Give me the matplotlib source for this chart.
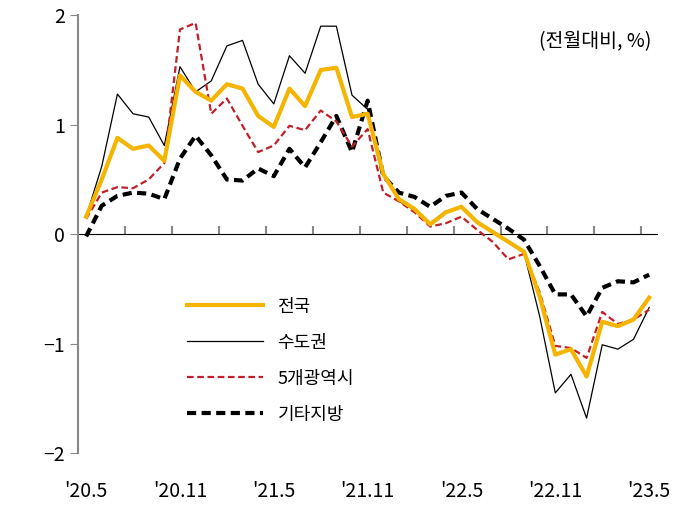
import matplotlib
matplotlib.use("Agg")
import matplotlib.pyplot as plt
from matplotlib import font_manager

avail = {f.name for f in font_manager.fontManager.ttflist}
cands = [n for n in ["Noto Sans CJK KR", "Noto Sans CJK JP", "Noto Sans CJK SC", "Noto Sans CJK TC"] if n in avail]
plt.rcParams["font.family"] = cands + ["DejaVu Sans"]

tick_labels = ["'20.5", "'20.11", "'21.5", "'21.11", "'22.5", "'22.11", "'23.5"]
nation = [0.16, 0.5, 0.88, 0.78, 0.81, 0.67, 1.45, 1.3, 1.22, 1.37, 1.33, 1.08, 0.98, 1.33, 1.17, 1.5, 1.52, 1.07, 1.1,
          0.55, 0.32, 0.23, 0.09, 0.2, 0.25, 0.11, 0.02, -0.07, -0.16, -0.57, -1.1, -1.05, -1.3, -0.8, -0.84, -0.78, -0.58]
capital = [0.16, 0.62, 1.28, 1.1, 1.07, 0.81, 1.53, 1.3, 1.4, 1.72, 1.77, 1.37, 1.19, 1.63, 1.47, 1.9, 1.9, 1.27, 1.14,
           0.55, 0.3, 0.22, 0.1, 0.21, 0.24, 0.1, 0.02, -0.08, -0.17, -0.75, -1.45, -1.28, -1.68, -1.01, -1.05, -0.96, -0.67]
metro = [0.14, 0.38, 0.43, 0.42, 0.5, 0.65, 1.87, 1.93, 1.1, 1.24, 0.99, 0.75, 0.81, 0.99, 0.95, 1.13, 1.03, 0.8, 0.96,
         0.38, 0.3, 0.2, 0.07, 0.1, 0.16, 0.04, -0.07, -0.23, -0.18, -0.53, -1.02, -1.04, -1.13, -0.71, -0.82, -0.78, -0.69]
other = [-0.02, 0.26, 0.35, 0.38, 0.37, 0.32, 0.69, 0.9, 0.72, 0.5, 0.49, 0.6, 0.53, 0.78, 0.61, 0.84, 1.08, 0.75, 1.22,
         0.53, 0.38, 0.34, 0.25, 0.35, 0.38, 0.23, 0.14, 0.05, -0.05, -0.29, -0.55, -0.55, -0.75, -0.49, -0.43, -0.44, -0.37]

x = list(range(len(nation)))
fig = plt.figure(figsize=(6.93, 5.08), dpi=100)
ax = fig.add_axes([0.113, 0.108, 0.835, 0.862])

ax.plot(x, capital, color="black", lw=0.9, label="수도권", zorder=3)
ax.plot(x, metro, color="#c0202a", lw=1.6, ls=(0, (3, 1.6)), label="5개광역시", zorder=3)
ax.plot(x, other, color="black", lw=3, ls=(0, (2.2, 1.3)), label="기타지방", zorder=2)
ax.plot(x, nation, color="#f5b400", lw=3, label="전국", zorder=4)

ax.set_xlim(-0.5, 36.5)
ax.set_ylim(-2, 2)
ax.set_yticks([-2, -1, 0, 1, 2])
ax.set_yticklabels(["\u22122", "\u22121", "0", "1", "2"])
ax.set_xticks(list(range(0, 37, 6)))
ax.set_xticklabels(tick_labels)
ax.tick_params(axis="x", length=0, labelsize=14, pad=20)
ax.tick_params(axis="y", length=6, color="#888888", labelsize=14, direction="out")
for s in ["top", "right", "bottom"]:
    ax.spines[s].set_visible(False)
ax.spines["left"].set_color("#888888")
ax.spines["left"].set_linewidth(1.5)

sec = ax.secondary_xaxis(0.5)
sec.set_xticks([2.5 + 3 * k for k in range(12)])
sec.set_xticklabels([])
sec.spines["bottom"].set_color("#888888")
sec.spines["bottom"].set_linewidth(1.5)
sec.tick_params(length=6, color="#888888", width=1.5)

h, l = ax.get_legend_handles_labels()
order = [3, 0, 1, 2]
ax.legend([h[i] for i in order], [l[i] for i in order], loc="lower left",
          bbox_to_anchor=(0.16, 0.03), frameon=False, fontsize=13, handlelength=4.2,
          labelspacing=1.0)
ax.text(0.99, 0.94, "(전월대비, %)", transform=ax.transAxes, ha="right", va="center", fontsize=14)

fig.savefig("out.png", dpi=100)
